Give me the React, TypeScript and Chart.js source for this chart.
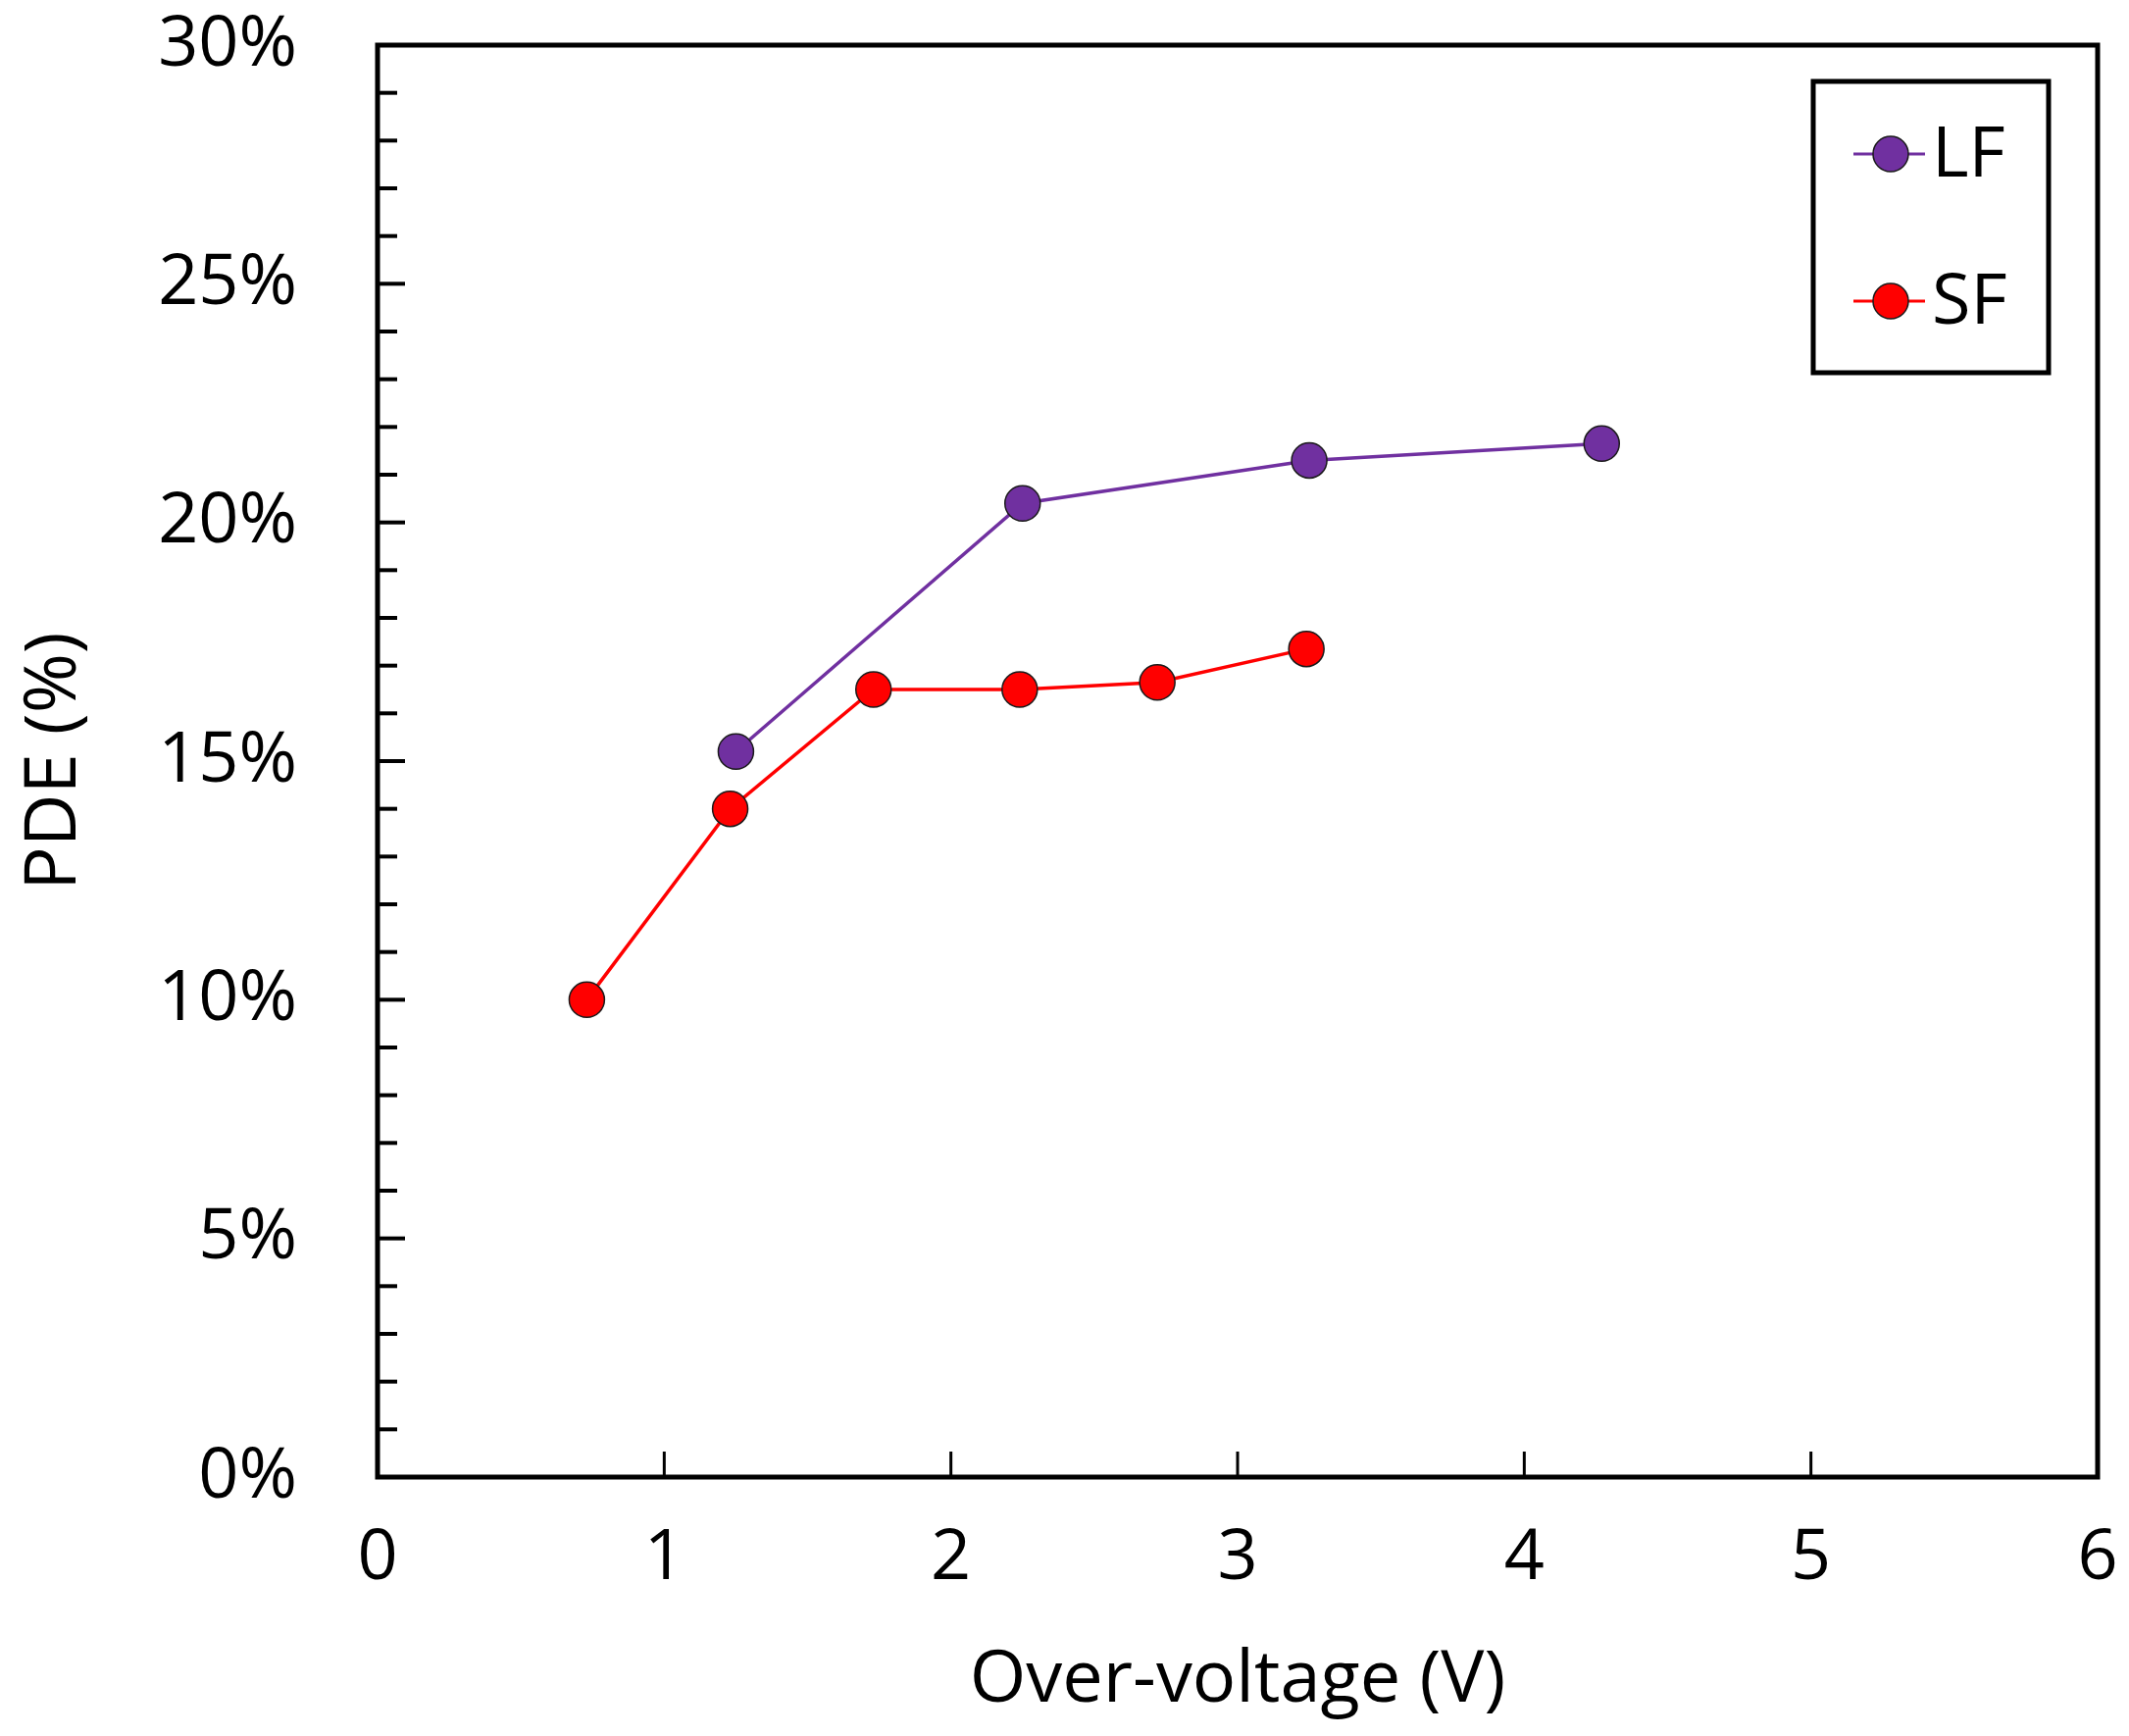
import { useEffect, useRef } from 'react';
import { Chart, registerables } from 'chart.js';

Chart.register(...registerables);

// data
const seriesLabels = ['LF', 'SF'];
const lfVoltage = [1.25, 2.25, 3.25, 4.27];
const lfPde = [15.2, 20.4, 21.3, 21.65];
const sfVoltage = [0.73, 1.23, 1.73, 2.24, 2.72, 3.24];
const sfPde = [10.0, 14.0, 16.5, 16.5, 16.65, 17.35];
const xTicks = [0, 1, 2, 3, 4, 5, 6];
const yTicks = [0, 5, 10, 15, 20, 25, 30];
const yMinorStep = 1;

const FONT = "'Open Sans', 'Noto Sans', sans-serif";

// frame, inside ticks and boxed legend
const framePlugin = {
  id: 'frame',
  afterDraw(chart: any) {
    const { ctx, chartArea: a, scales } = chart;
    ctx.save();
    ctx.strokeStyle = '#000';

    // y ticks (major + minor), pointing inward
    ctx.lineWidth = 4;
    const yMin = yTicks[0];
    const yMax = yTicks[yTicks.length - 1];
    for (let v = yMin + yMinorStep; v < yMax; v += yMinorStep) {
      const y = scales.y.getPixelForValue(v);
      const len = v % 5 === 0 ? 28 : 20;
      ctx.beginPath();
      ctx.moveTo(a.left, y);
      ctx.lineTo(a.left + len, y);
      ctx.stroke();
    }

    // x ticks, pointing up
    ctx.lineWidth = 3;
    xTicks.slice(1, -1).forEach((v) => {
      const x = scales.x.getPixelForValue(v);
      ctx.beginPath();
      ctx.moveTo(x, a.bottom);
      ctx.lineTo(x, a.bottom - 26);
      ctx.stroke();
    });

    // plot frame
    ctx.lineWidth = 5;
    ctx.strokeRect(a.left, a.top, a.right - a.left, a.bottom - a.top);

    // legend
    const boxRight = a.right - 50;
    const boxLeft = boxRight - 240;
    const boxTop = a.top + 37;
    const boxBottom = boxTop + 297;
    ctx.lineWidth = 5;
    ctx.fillStyle = '#fff';
    ctx.fillRect(boxLeft, boxTop, boxRight - boxLeft, boxBottom - boxTop);
    ctx.strokeRect(boxLeft, boxTop, boxRight - boxLeft, boxBottom - boxTop);

    chart.data.datasets.forEach((ds: any, i: number) => {
      const cy = boxTop + 74 + i * 150;
      const cx = boxLeft + 79;
      ctx.strokeStyle = ds.borderColor;
      ctx.lineWidth = 3;
      ctx.beginPath();
      ctx.moveTo(boxLeft + 41, cy);
      ctx.lineTo(boxLeft + 114, cy);
      ctx.stroke();
      ctx.beginPath();
      ctx.arc(cx, cy, 18, 0, Math.PI * 2);
      ctx.fillStyle = ds.pointBackgroundColor;
      ctx.fill();
      ctx.strokeStyle = '#1a1a1a';
      ctx.lineWidth = 1.5;
      ctx.stroke();
      ctx.fillStyle = '#000';
      ctx.font = `72px ${FONT}`;
      ctx.textAlign = 'left';
      ctx.textBaseline = 'middle';
      ctx.fillText(ds.label, boxLeft + 121, cy + 2);
    });

    ctx.restore();
  },
};

export default function App() {
  const chartRef = useRef<HTMLCanvasElement>(null);

  useEffect(() => {
    document.body.style.margin = '0';
    if (!chartRef.current) return;

    const chart = new Chart(chartRef.current, {
      type: 'line',
      data: {
        datasets: [
          {
            label: seriesLabels[0],
            data: lfVoltage.map((x, i) => ({ x, y: lfPde[i] })),
            borderColor: '#7030A0',
            backgroundColor: '#7030A0',
            pointBackgroundColor: '#7030A0',
            pointBorderColor: '#1a1a1a',
            pointBorderWidth: 1.5,
            pointRadius: 18,
            borderWidth: 3.5,
          },
          {
            label: seriesLabels[1],
            data: sfVoltage.map((x, i) => ({ x, y: sfPde[i] })),
            borderColor: '#FF0000',
            backgroundColor: '#FF0000',
            pointBackgroundColor: '#FF0000',
            pointBorderColor: '#1a1a1a',
            pointBorderWidth: 1.5,
            pointRadius: 18,
            borderWidth: 3.5,
          },
        ],
      },
      options: {
        responsive: false,
        animation: false,
        layout: { padding: { top: 46, right: 32, left: 0, bottom: 0 } },
        plugins: {
          legend: { display: false },
          tooltip: { enabled: false },
        },
        scales: {
          x: {
            type: 'linear',
            min: xTicks[0],
            max: xTicks[xTicks.length - 1],
            afterBuildTicks: (scale: any) => {
              scale.ticks = xTicks.map((value) => ({ value }));
            },
            afterFit: (scale: any) => {
              scale.height = 264;
              scale.paddingLeft = 0;
              scale.paddingRight = 0;
            },
            grid: { display: false, drawTicks: false },
            border: { display: false },
            ticks: {
              color: '#000',
              padding: 40,
              font: { family: FONT, size: 72 },
            },
            title: {
              display: true,
              text: 'Over-voltage (V)',
              color: '#000',
              font: { family: FONT, size: 74 },
              padding: { top: 0, bottom: 12 },
            },
          },
          y: {
            type: 'linear',
            min: yTicks[0],
            max: yTicks[yTicks.length - 1],
            afterBuildTicks: (scale: any) => {
              scale.ticks = yTicks.map((value) => ({ value }));
            },
            afterFit: (scale: any) => {
              scale.width = 385;
              scale.paddingTop = 0;
              scale.paddingBottom = 0;
            },
            grid: { display: false, drawTicks: false },
            border: { display: false },
            ticks: {
              color: '#000',
              padding: 82,
              font: { family: FONT, size: 72 },
              callback: (v: any) => `${v}%`,
            },
            title: {
              display: true,
              text: 'PDE (%)',
              color: '#000',
              font: { family: FONT, size: 74 },
              padding: { top: 12, bottom: 0 },
            },
          },
        },
      },
      plugins: [framePlugin],
    });

    return () => chart.destroy();
  }, []);

  return (
    <div style={{ width: 2171, height: 1770, background: '#fff' }}>
      <canvas ref={chartRef} width={2171} height={1770} />
    </div>
  );
}
